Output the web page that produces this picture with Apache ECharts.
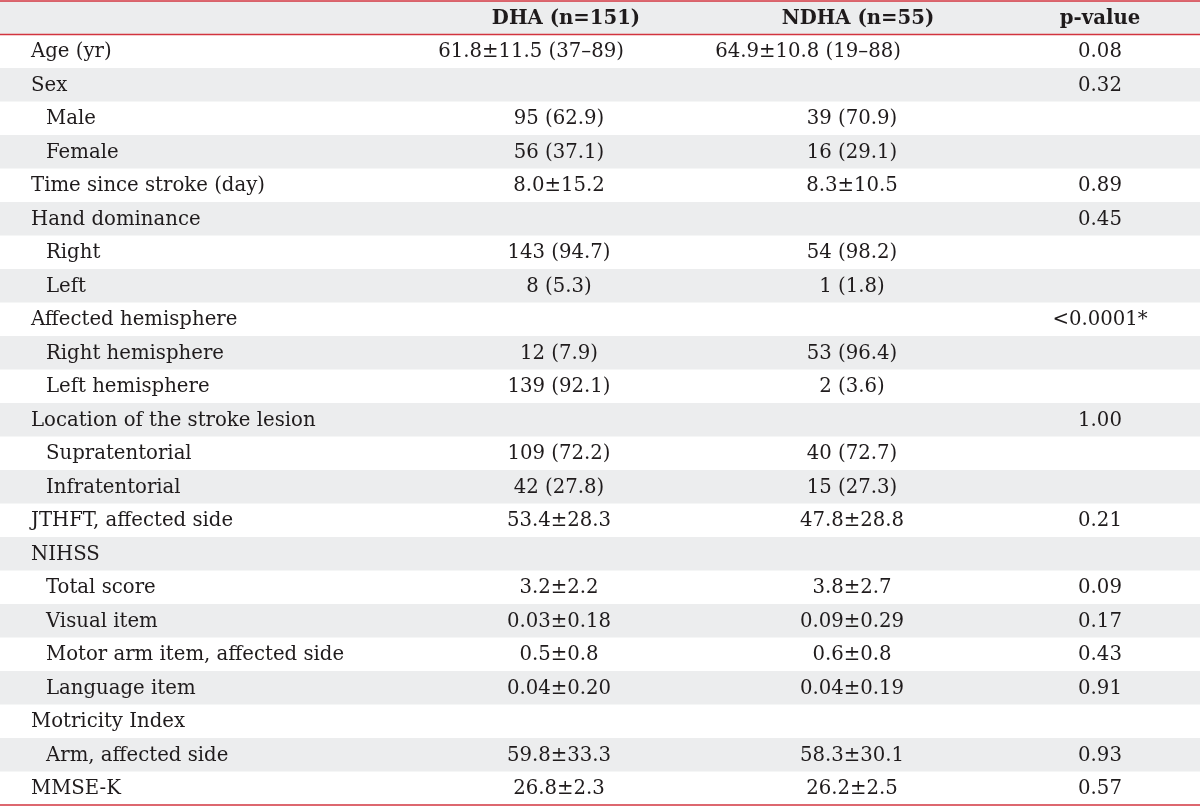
<!DOCTYPE html>
<html><head><meta charset="utf-8">
<script src="https://cdn.jsdelivr.net/npm/echarts@6/dist/echarts.min.js"></script>
<style>html,body{margin:0;padding:0;background:#fff}#c{width:1200px;height:806px}</style>
</head><body><div id="c"></div>
<script>
// ---- table content ----
const headers = ['', 'DHA (n=151)', 'NDHA (n=55)', 'p-value'];
const rowLabels = ['Age (yr)', 'Sex', 'Male', 'Female', 'Time since stroke (day)', 'Hand dominance', 'Right', 'Left',
  'Affected hemisphere', 'Right hemisphere', 'Left hemisphere', 'Location of the stroke lesion', 'Supratentorial',
  'Infratentorial', 'JTHFT, affected side', 'NIHSS', 'Total score', 'Visual item', 'Motor arm item, affected side',
  'Language item', 'Motricity Index', 'Arm, affected side', 'MMSE-K'];
const isSubItem = [false, false, true, true, false, false, true, true, false, true, true, false, true, true, false,
  false, true, true, true, true, false, true, false];
const dhaValues = ['61.8±11.5 (37–89)', '', '95 (62.9)', '56 (37.1)', '8.0±15.2', '', '143 (94.7)', '8 (5.3)', '',
  '12 (7.9)', '139 (92.1)', '', '109 (72.2)', '42 (27.8)', '53.4±28.3', '', '3.2±2.2', '0.03±0.18', '0.5±0.8',
  '0.04±0.20', '', '59.8±33.3', '26.8±2.3'];
const ndhaValues = ['64.9±10.8 (19–88)', '', '39 (70.9)', '16 (29.1)', '8.3±10.5', '', '54 (98.2)', '1 (1.8)', '',
  '53 (96.4)', '2 (3.6)', '', '40 (72.7)', '15 (27.3)', '47.8±28.8', '', '3.8±2.7', '0.09±0.29', '0.6±0.8',
  '0.04±0.19', '', '58.3±30.1', '26.2±2.5'];
const pValues = ['0.08', '0.32', '', '', '0.89', '0.45', '', '', '<0.0001*', '', '', '1.00', '', '', '0.21', '',
  '0.09', '0.17', '0.43', '0.91', '', '0.93', '0.57'];

// ---- build ----
const rowKeys = ['header'].concat(rowLabels);
const FONT = '"DejaVu Serif", serif';
const TXT = '#1f1b1c';
const RED = '#d2343f';
const GRAY = '#ecedee';
const COL = {label: 31, sub: 46, dha: 559, ndha: 852, p: 1100};
const WIDE = {dha: -28, ndha: -44};

const chart = echarts.init(document.getElementById('c'), null, {renderer: 'canvas'});
chart.setOption({
  animation: false,
  grid: {left: 0, right: 0, top: 1, bottom: 1},
  xAxis: {type: 'value', min: 0, max: 1200, show: false},
  yAxis: {type: 'category', data: rowKeys, inverse: true, show: false},
  series: [{
    type: 'custom',
    coordinateSystem: 'cartesian2d',
    data: rowKeys.map((k, i) => [0, i]),
    renderItem: function (params, api) {
      const idx = api.value(1);
      const c = api.coord([0, idx]);
      const h = api.size([0, 1])[1];
      const yTop = c[1] - h / 2, yMid = c[1] + 1;
      const X = v => api.coord([v, idx])[0];
      const full = X(1200) - X(0);
      const children = [];
      if (idx % 2 === 0) {
        children.push({type: 'rect', shape: {x: X(0), y: yTop, width: full, height: h}, style: {fill: GRAY}});
      }
      const txt = (t, x, align, bold) => ({
        type: 'text',
        style: {text: t, x: x, y: yMid, align: align, verticalAlign: 'middle',
          font: (bold ? 'bold ' : '') + '19.7px ' + FONT, fill: TXT}
      });
      if (idx === 0) {
        children.push(txt(headers[1], X(COL.dha + 7), 'center', true));
        children.push(txt(headers[2], X(COL.ndha + 6), 'center', true));
        children.push(txt(headers[3], X(COL.p), 'center', true));
        children.push({type: 'line', shape: {x1: X(0), y1: yTop, x2: X(1200), y2: yTop}, style: {stroke: RED, lineWidth: 1.6}});
        children.push({type: 'line', shape: {x1: X(0), y1: yTop + h, x2: X(1200), y2: yTop + h}, style: {stroke: RED, lineWidth: 1.6}});
      } else {
        const r = idx - 1;
        children.push(txt(rowLabels[r], X(isSubItem[r] ? COL.sub : COL.label), 'left', false));
        const d = dhaValues[r], n = ndhaValues[r];
        children.push(txt(d, X(COL.dha + (d.length > 12 ? WIDE.dha : 0)), 'center', false));
        children.push(txt(n, X(COL.ndha + (n.length > 12 ? WIDE.ndha : 0)), 'center', false));
        children.push(txt(pValues[r], X(COL.p), 'center', false));
        if (idx === rowKeys.length - 1) {
          children.push({type: 'line', shape: {x1: X(0), y1: yTop + h, x2: X(1200), y2: yTop + h}, style: {stroke: RED, lineWidth: 1.6}});
        }
      }
      return {type: 'group', children: children};
    }
  }]
});
</script>
</body></html>
